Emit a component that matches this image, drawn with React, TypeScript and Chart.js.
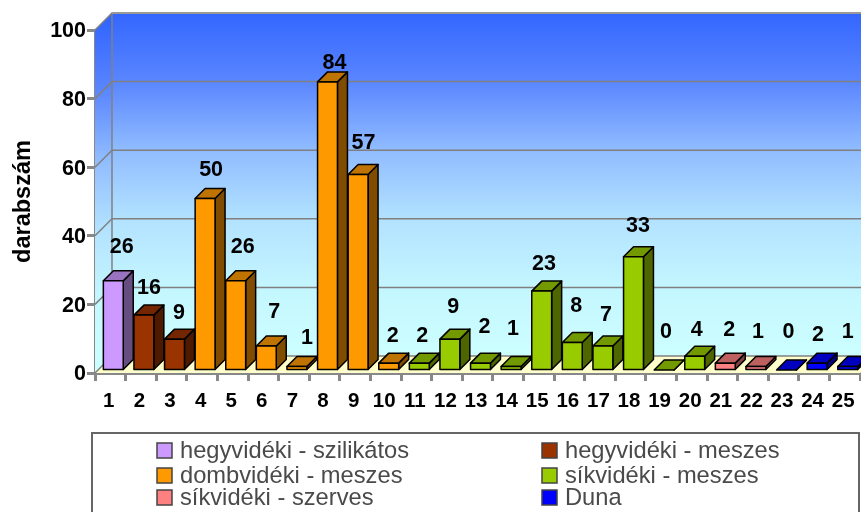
import React, { useEffect, useRef } from "react";
import { Chart, registerables } from "chart.js";

Chart.register(...registerables);

const _ = null;
const categories = ["1","2","3","4","5","6","7","8","9","10","11","12","13","14","15","16","17","18","19","20","21","22","23","24","25"];
const hegySzilikatos = [26,_,_,_,_,_,_,_,_,_,_,_,_,_,_,_,_,_,_,_,_,_,_,_,_];
const hegyMeszes     = [_,16,9,_,_,_,_,_,_,_,_,_,_,_,_,_,_,_,_,_,_,_,_,_,_];
const dombMeszes     = [_,_,_,50,26,7,1,84,57,2,_,_,_,_,_,_,_,_,_,_,_,_,_,_,_];
const sikMeszes      = [_,_,_,_,_,_,_,_,_,_,2,9,2,1,23,8,7,33,0,4,_,_,_,_,_];
const sikSzerves     = [_,_,_,_,_,_,_,_,_,_,_,_,_,_,_,_,_,_,_,_,2,1,_,_,_];
const duna           = [_,_,_,_,_,_,_,_,_,_,_,_,_,_,_,_,_,_,_,_,_,_,0,2,1];
const seriesNames = ["hegyvidéki - szilikátos","hegyvidéki - meszes","dombvidéki - meszes","síkvidéki - meszes","síkvidéki - szerves","Duna"];
const seriesColors = ["#cc99ff","#993300","#ff9900","#99cc00","#ff8080","#0000ff"];
const yTitle = "darabszám";

// Hand-placed value labels in the reference: distance above the bar top, sideways nudge.
const labelLift = [34,27,26,28.5,34,34,28.6,19,31.5,27,27,32,36,37.6,27,36.6,31,31,38,26,33,34.6,38,28,34.6];
const labelNudge = [8.5,5,4.4,6,7,8,10,7,5.4,4,3,3.4,4,2,2.3,4,3,4.4,2,2,4,2,2,1,0];

const WALL = 17;      // depth of the box
const BAR_DEPTH = 10; // depth of a bar
const BAR_SHIFT = 3;  // how far the bars stand in from the front edge
const GREY = "#888888";
const LINE = "#808080";
const BOLD = "'Liberation Sans', Arial, sans-serif";

function shade(hex: string, f: number) {
  const n = parseInt(hex.slice(1), 16);
  const c = [(n >> 16) & 255, (n >> 8) & 255, n & 255].map((v) => Math.round(v * f));
  return `rgb(${c[0]},${c[1]},${c[2]})`;
}

function poly(ctx: CanvasRenderingContext2D, pts: number[][], fill: any, stroke?: string, lw = 1) {
  ctx.beginPath();
  pts.forEach((p, i) => (i ? ctx.lineTo(p[0], p[1]) : ctx.moveTo(p[0], p[1])));
  ctx.closePath();
  if (fill) { ctx.fillStyle = fill; ctx.fill(); }
  if (stroke) { ctx.strokeStyle = stroke; ctx.lineWidth = lw; ctx.stroke(); }
}

function wallGradient(ctx: CanvasRenderingContext2D, top: number, bottom: number) {
  const g = ctx.createLinearGradient(0, top, 0, bottom);
  g.addColorStop(0, "#3366ff");
  g.addColorStop(0.2, "#5a86ff");
  g.addColorStop(0.4, "#90bcff");
  g.addColorStop(0.6, "#b2e2ff");
  g.addColorStop(0.8, "#c4f6ff");
  g.addColorStop(1, "#ccffff");
  return g;
}

const boxPlugin = {
  id: "box3d",
  beforeDatasetsDraw(chart: any) {
    const { ctx, chartArea: a, scales } = chart;
    const y = scales.y;
    ctx.save();
    const bl = a.left + WALL;
    const bb = a.bottom - WALL;
    const bt = a.top - WALL;
    const br = a.right + WALL;
    poly(ctx, [[bl, bt], [br, bt], [br, bb], [bl, bb]], wallGradient(ctx, bt, bb));
    poly(ctx, [[a.left, a.top], [bl, bt], [bl, bb], [a.left, a.bottom]], wallGradient(ctx, a.top - 8, a.bottom - 8));
    poly(ctx, [[a.left, a.bottom], [bl, bb], [br, bb], [a.right, a.bottom]], "#ffffcc");
    ctx.strokeStyle = LINE;
    ctx.lineWidth = 1.5;
    y.ticks.forEach((t: any) => {
      const py = y.getPixelForValue(t.value);
      ctx.beginPath();
      ctx.moveTo(a.left, py);
      ctx.lineTo(bl, py - WALL);
      ctx.lineTo(br, py - WALL);
      ctx.stroke();
    });
    ctx.beginPath();
    ctx.moveTo(bl, bt);
    ctx.lineTo(bl, bb);
    ctx.stroke();
    ctx.strokeStyle = "#999999";
    ctx.lineWidth = 2;
    ctx.beginPath();
    ctx.moveTo(bl, bt);
    ctx.lineTo(br, bt);
    ctx.stroke();
    ctx.restore();
  },
  beforeDatasetDraw(chart: any, args: any) {
    const { ctx } = chart;
    const ds = chart.data.datasets[args.index];
    ctx.save();
    ctx.translate(BAR_SHIFT, -BAR_SHIFT);
    args.meta.data.forEach((el: any, i: number) => {
      if (ds.data[i] === null) return;
      const l = el.x - el.width / 2;
      const r = el.x + el.width / 2;
      const t = el.y;
      const b = el.base;
      const d = BAR_DEPTH;
      ctx.lineJoin = "round";
      poly(ctx, [[r, t], [r + d, t - d], [r + d, b - d], [r, b]], shade(ds.backgroundColor, 0.5), "#000000", 1.5);
      poly(ctx, [[l, t], [l + d, t - d], [r + d, t - d], [r, t]], shade(ds.backgroundColor, 0.75), "#000000", 1.5);
    });
  },
  afterDatasetDraw(chart: any, args: any) {
    const { ctx } = chart;
    const ds = chart.data.datasets[args.index];
    ctx.strokeStyle = "#000000";
    ctx.lineWidth = 1.5;
    args.meta.data.forEach((el: any, i: number) => {
      if (!ds.data[i]) return;
      ctx.strokeRect(el.x - el.width / 2, el.y, el.width, el.base - el.y);
    });
    ctx.restore();
  },
  afterDatasetsDraw(chart: any) {
    const { ctx } = chart;
    ctx.save();
    ctx.fillStyle = "#000000";
    ctx.font = `bold 21.5px ${BOLD}`;
    ctx.textAlign = "center";
    ctx.textBaseline = "middle";
    chart.data.datasets.forEach((ds: any, di: number) => {
      const meta = chart.getDatasetMeta(di);
      ds.data.forEach((v: number | null, i: number) => {
        if (v === null) return;
        const el = meta.data[i];
        ctx.fillText(String(v), el.x + BAR_SHIFT + labelNudge[i], el.y - BAR_SHIFT - labelLift[i]);
      });
    });
    ctx.restore();
  },
  afterDraw(chart: any) {
    const { ctx } = chart;
    ctx.save();
    ctx.fillStyle = "#ffffff";
    ctx.fillRect(91, 433, 769, 90);
    ctx.strokeStyle = "#666666";
    ctx.lineWidth = 2;
    ctx.strokeRect(92, 433, 767, 90);
    const rowTop = [443, 468, 490];
    const rowBase = [458, 483, 505];
    const colX = [157, 542];
    ctx.filter = "blur(0.5px)";
    chart.data.datasets.forEach((ds: any, i: number) => {
      const col = i % 2;
      const row = Math.floor(i / 2);
      ctx.fillStyle = ds.backgroundColor;
      ctx.fillRect(colX[col], rowTop[row], 15, 15);
      ctx.strokeStyle = "#444444";
      ctx.lineWidth = 1.5;
      ctx.strokeRect(colX[col], rowTop[row], 15, 15);
      ctx.fillStyle = "#4a4a4a";
      ctx.font = `23.7px ${BOLD}`;
      ctx.textAlign = "left";
      ctx.textBaseline = "alphabetic";
      ctx.fillText(ds.label, colX[col] + 23, rowBase[row]);
    });
    ctx.restore();
  },
};

export default function App() {
  const ref = useRef<HTMLCanvasElement>(null);
  useEffect(() => {
    const chart = new Chart(ref.current as HTMLCanvasElement, {
      type: "bar",
      data: {
        labels: categories,
        datasets: [hegySzilikatos, hegyMeszes, dombMeszes, sikMeszes, sikSzerves, duna].map((data, i) => ({
          label: seriesNames[i],
          data,
          backgroundColor: seriesColors[i],
          borderWidth: 0,
          barPercentage: 0.65,
          categoryPercentage: 1,
          clip: false,
        })),
      } as any,
      options: {
        animation: false,
        responsive: false,
        layout: { padding: { left: 0, top: 30, right: 1, bottom: 0 } },
        plugins: { legend: { display: false }, tooltip: { enabled: false } },
        scales: {
          x: {
            stacked: true,
            afterFit: (s: any) => { s.height = 139; s.paddingLeft = 0; s.paddingRight = 0; },
            grid: { drawOnChartArea: false, drawTicks: true, tickLength: 8, tickWidth: 3, tickColor: GREY },
            border: { color: GREY, width: 3 },
            ticks: {
              color: "#000000",
              padding: 8,
              labelOffset: -1.5,
              maxRotation: 0,
              autoSkip: false,
              font: { family: BOLD, size: 20.5, weight: "bold" },
            },
          },
          y: {
            stacked: true,
            min: 0,
            max: 100,
            afterFit: (s: any) => { s.width = 95; },
            grid: { drawOnChartArea: false, drawTicks: true, tickLength: 8, tickWidth: 3, tickColor: GREY },
            border: { color: GREY, width: 3 },
            title: {
              display: true,
              text: yTitle,
              color: "#000000",
              padding: { top: 9, bottom: 0 },
              font: { family: BOLD, size: 23.5, weight: "bold" },
            },
            ticks: {
              stepSize: 20,
              color: "#000000",
              padding: 1,
              labelOffset: 1.5,
              font: { family: BOLD, size: 21.5, weight: "bold" },
            },
          },
        },
      } as any,
      plugins: [boxPlugin],
    });
    return () => chart.destroy();
  }, []);
  return (
    <canvas
      ref={ref}
      width={861}
      height={512}
      style={{ position: "absolute", left: 0, top: 0, display: "block" }}
    />
  );
}
